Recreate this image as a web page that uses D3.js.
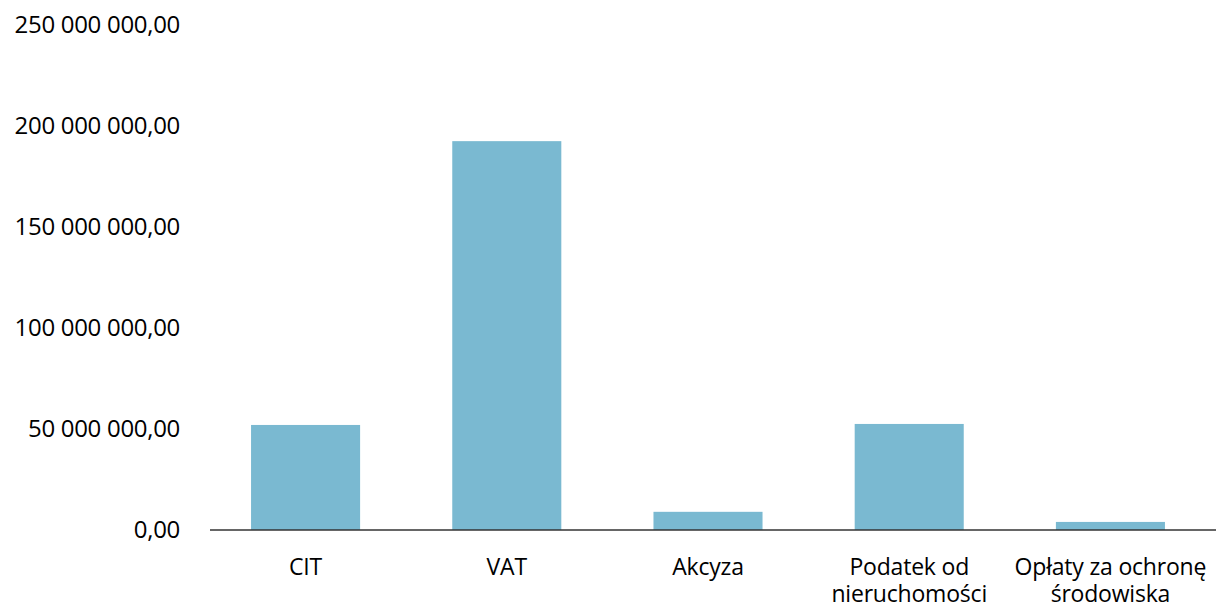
<!DOCTYPE html>
<html>
<head>
<meta charset="utf-8">
<script src="https://cdn.jsdelivr.net/npm/d3@7"></script>
<style>
  body { margin: 0; background: #fff; }
  svg text { font-family: "Open Sans", "Noto Sans", sans-serif; fill: #000; }
</style>
</head>
<body>
<div id="bar"></div>
<script>
// data
var categories = ["CIT", "VAT", "Akcyza", "Podatek od nieruchomości", "Opłaty za ochronę środowiska"];
var labelLines = [["CIT"], ["VAT"], ["Akcyza"], ["Podatek od", "nieruchomości"], ["Opłaty za ochronę", "środowiska"]];
var values = [52000000, 192500000, 9000000, 52500000, 4000000];
var yTicks = [0, 50000000, 100000000, 150000000, 200000000, 250000000];

function barGraph(){
    var totalW = 1216, totalH = 608;
    var margin = {top: 25, right: 0, bottom: 78, left: 210};
    var width = totalW - margin.left - margin.right,
        height = totalH - margin.top - margin.bottom;

    var svg = d3.select("#bar").append("svg")
        .attr("width", totalW)
        .attr("height", totalH);

    var g = svg.append("g")
        .attr("transform", "translate(" + margin.left + "," + margin.top + ")");

    var x = d3.scaleBand().domain(categories).range([0, width - 10])
        .paddingInner(0.458).paddingOuter(0.204);
    var y = d3.scaleLinear().domain([0, 250000000]).range([height, 0]);

    var pl = d3.formatLocale({decimal: ",", thousands: " ", grouping: [3], currency: ["", " zł"]});
    var fmt = pl.format(",.2f");

    // y labels, no axis line
    g.selectAll(".ylab")
      .data(yTicks)
      .enter().append("text")
        .attr("class", "ylab")
        .attr("x", -30)
        .attr("y", function(d) { return y(d); })
        .attr("dy", "0.35em")
        .attr("text-anchor", "end")
        .style("font-size", "24px")
        .style("letter-spacing", "-0.3px")
        .text(function(d) { return fmt(d); });

    g.selectAll(".bar")
      .data(values)
      .enter().append("rect")
        .attr("class", "bar")
        .attr("x", function(d, i) { return x(categories[i]); })
        .attr("y", function(d) { return y(d); })
        .attr("width", x.bandwidth())
        .attr("height", function(d) { return height - y(d); })
        .attr("fill", "#7ab9d1");

    // baseline
    g.append("line")
        .attr("x1", 0).attr("x2", width)
        .attr("y1", y(0)).attr("y2", y(0))
        .attr("stroke", "#333")
        .attr("stroke-width", 1.5);

    var lab = g.selectAll(".xlab")
      .data(categories)
      .enter().append("text")
        .attr("class", "xlab")
        .attr("text-anchor", "middle")
        .attr("x", function(d) { return x(d) + x.bandwidth() / 2; })
        .attr("y", height + 45)
        .style("font-size", "23px")
        .style("letter-spacing", "-0.2px");

    lab.selectAll("tspan")
      .data(function(d, i) { return labelLines[i]; })
      .enter().append("tspan")
        .attr("x", function() { var p = d3.select(this.parentNode); return p.attr("x"); })
        .attr("dy", function(d, i) { return i ? 27 : 0; })
        .text(function(d) { return d; });
}

barGraph();
</script>
</body>
</html>
